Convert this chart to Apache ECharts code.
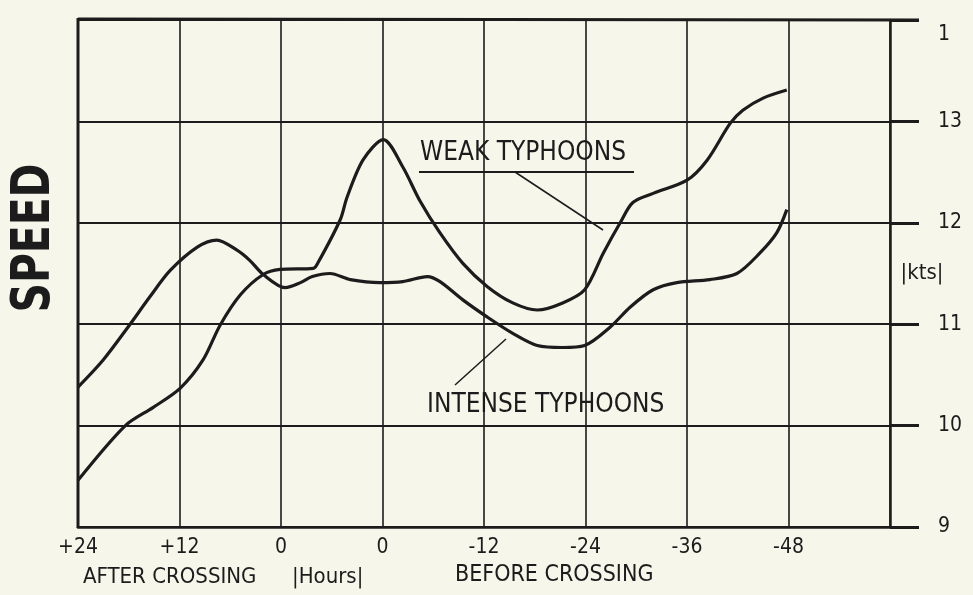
<!DOCTYPE html>
<html>
<head>
<meta charset="utf-8">
<script src="https://cdn.jsdelivr.net/npm/echarts@6/dist/echarts.min.js"></script>
<style>
  html, body { margin: 0; padding: 0; background: #f7f6eb; }
  #chart { width: 973px; height: 595px; }
</style>
</head>
<body>
<div id="chart"></div>
<script>
// x positions on the chart's time scale (0 = +24 h after crossing ... 84 = -48 h before)
var xTickLabels = ['+24', '+12', '0', '0', '-12', '-24', '-36', '-48', ''];
var yTickLabels = ['9', '10', '11', '12', '13', '1'];

var weakX = [0, 5.6, 8.9, 12.1, 14.8, 16.8, 19.2, 21.9, 23.9, 27.8, 28.4, 31.0, 31.8, 33.7, 36.1, 38.4, 40.4, 42.8, 45.5, 48.4, 51.4, 54.3, 57.3, 59.9, 62.1, 64.1, 65.6, 68.0, 72.0, 74.4, 77.1, 78.6, 81.0, 83.8];
var weakSpeed = [9.46, 10.0, 10.18, 10.37, 10.65, 10.99, 11.29, 11.49, 11.54, 11.55, 11.61, 12.03, 12.25, 12.62, 12.82, 12.55, 12.22, 11.9, 11.6, 11.37, 11.21, 11.14, 11.21, 11.34, 11.70, 12.0, 12.2, 12.29, 12.42, 12.62, 12.98, 13.11, 13.23, 13.31];

var intenseX = [0, 3.0, 5.9, 8.5, 10.9, 14.1, 16.4, 18.8, 20.3, 21.9, 24.5, 26.3, 27.7, 29.8, 32.2, 35.7, 38.4, 41.3, 42.8, 45.5, 48.4, 51.4, 54.3, 57.3, 59.9, 62.9, 65.3, 68.0, 70.8, 74.7, 77.9, 80.6, 82.6, 83.8];
var intenseSpeed = [10.38, 10.65, 10.97, 11.27, 11.53, 11.76, 11.83, 11.73, 11.63, 11.49, 11.36, 11.41, 11.47, 11.5, 11.44, 11.41, 11.42, 11.47, 11.42, 11.24, 11.07, 10.91, 10.79, 10.77, 10.79, 10.97, 11.17, 11.34, 11.41, 11.44, 11.5, 11.70, 11.90, 12.13];

function pairs(xs, ys) {
    var out = [];
    for (var i = 0; i < xs.length; i++) {
        out.push([xs[i], ys[i]]);
    }
    return out;
}

var ink = '#1c1c1c';
var font = "'DejaVu Sans Condensed', 'Liberation Sans Narrow', 'DejaVu Sans', sans-serif";

var chart = echarts.init(document.getElementById('chart'));
var option = {
    backgroundColor: '#f7f6eb',
    animation: false,
    grid: { left: 78, right: 83, top: 20, bottom: 68 },
    xAxis: {
        type: 'value',
        min: 0,
        max: 96,
        interval: 12,
        axisLine: { show: true, onZero: false, lineStyle: { color: ink, width: 2.5 } },
        axisTick: { show: false },
        splitLine: { show: true, lineStyle: { color: ink, width: 1.6 } },
        axisLabel: {
            margin: 10,
            color: ink,
            fontFamily: font,
            fontSize: 21,
            formatter: function (v) { return xTickLabels[Math.round(v / 12)]; }
        }
    },
    yAxis: {
        type: 'value',
        position: 'right',
        min: 9,
        max: 14,
        interval: 1,
        axisLine: { show: true, onZero: false, lineStyle: { color: ink, width: 2.5 } },
        axisTick: { show: true, inside: false, length: 29, lineStyle: { color: ink, width: 3 } },
        splitLine: { show: true, lineStyle: { color: ink, width: 1.8 } },
        axisLabel: {
            margin: 48,
            color: ink,
            fontFamily: font,
            fontSize: 21,
            formatter: function (v) {
                var s = yTickLabels[Math.round(v - 9)];
                return v === 14 ? '{top|' + s + '}' : s;
            },
            rich: { top: { padding: [30, 0, 0, 0], fontSize: 21, fontFamily: font, color: ink } }
        }
    },
    series: [
        {
            name: 'WEAK TYPHOONS',
            type: 'line',
            data: pairs(weakX, weakSpeed),
            smooth: 0.3,
            showSymbol: false,
            lineStyle: { color: ink, width: 3.2 }
        },
        {
            name: 'INTENSE TYPHOONS',
            type: 'line',
            data: pairs(intenseX, intenseSpeed),
            smooth: 0.3,
            showSymbol: false,
            lineStyle: { color: ink, width: 3.2 }
        }
    ],
    graphic: [
        // left border and top border (thicker than grid)
        { type: 'line', shape: { x1: 78, y1: 18, x2: 78, y2: 528 }, style: { stroke: ink, lineWidth: 3 } },
        { type: 'line', shape: { x1: 78, y1: 19, x2: 919, y2: 20 }, style: { stroke: ink, lineWidth: 3 } },
        {
            type: 'text', x: 35, y: 238, rotation: Math.PI / 2, scaleX: 0.84,
            style: { text: 'SPEED', fill: ink, font: 'bold 54px ' + font, align: 'center', verticalAlign: 'middle' }
        },
        {
            type: 'text', x: 922, y: 273,
            style: { text: '|kts|', fill: ink, font: '22px ' + font, align: 'center', verticalAlign: 'middle' }
        },
        {
            type: 'text', x: 83, y: 577,
            style: { text: 'AFTER CROSSING', fill: ink, font: '22px ' + font, align: 'left', verticalAlign: 'middle' }
        },
        {
            type: 'text', x: 292, y: 577,
            style: { text: '|Hours|', fill: ink, font: '22px ' + font, align: 'left', verticalAlign: 'middle' }
        },
        {
            type: 'text', x: 455, y: 575,
            style: { text: 'BEFORE CROSSING', fill: ink, font: '23px ' + font, align: 'left', verticalAlign: 'middle' }
        },
        {
            type: 'text', x: 420, y: 153,
            style: { text: 'WEAK TYPHOONS', fill: ink, font: '26px ' + font, align: 'left', verticalAlign: 'middle' }
        },
        { type: 'line', shape: { x1: 419, y1: 172, x2: 634, y2: 172 }, style: { stroke: ink, lineWidth: 2 } },
        { type: 'line', shape: { x1: 515, y1: 172, x2: 603, y2: 230 }, style: { stroke: ink, lineWidth: 1.5 } },
        {
            type: 'text', x: 427, y: 405,
            style: { text: 'INTENSE TYPHOONS', fill: ink, font: '26px ' + font, align: 'left', verticalAlign: 'middle' }
        },
        { type: 'line', shape: { x1: 455, y1: 385, x2: 506, y2: 339 }, style: { stroke: ink, lineWidth: 1.5 } }
    ]
};
chart.setOption(option);
</script>
</body>
</html>
